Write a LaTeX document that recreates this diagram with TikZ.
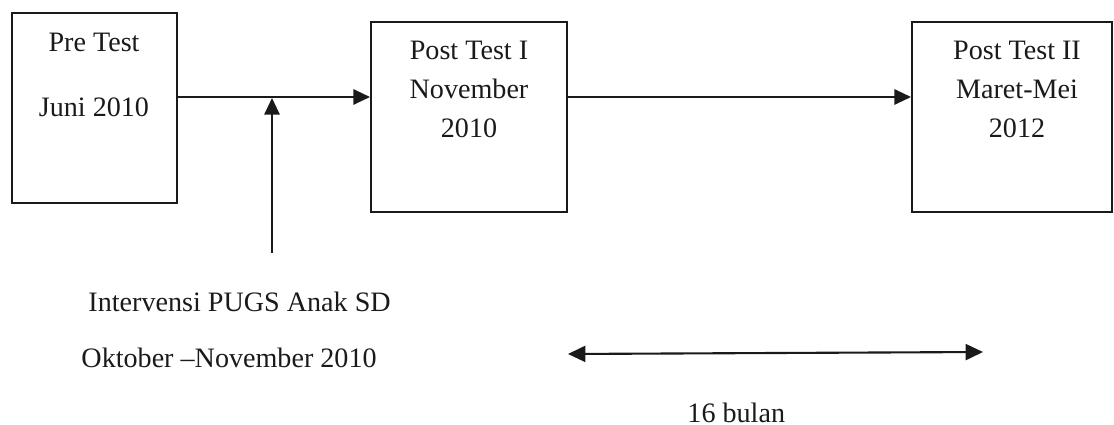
\documentclass[tikz,border=0pt]{standalone}
\usepackage{fontspec}
\setmainfont{Liberation Serif}
\usetikzlibrary{arrows.meta,positioning}
\definecolor{ink}{HTML}{1a1a1a}
\tikzset{
  stage/.style={draw=ink,line width=0.85pt,inner sep=0pt},
  lbl/.style={text=ink,inner sep=0pt,align=center,anchor=base,
              font=\fontsize{12}{16.8}\selectfont},
  note/.style={text=ink,inner sep=0pt,anchor=base west,font=\fontsize{12}{14}\selectfont},
  flow/.style={-{Triangle[length=2.5mm,width=2.3mm]},line width=0.85pt,ink},
  span/.style={{Triangle[length=2.6mm,width=2.4mm]}-{Triangle[length=2.6mm,width=2.4mm]},line width=0.9pt,ink},
}
\begin{document}
\begin{tikzpicture}[x=0.015cm,y=-0.015cm]
  \useasboundingbox (0,0) rectangle (1114,425);
  % the three measurements
  \node[stage,minimum width=2.475cm,minimum height=2.85cm] (pre) at (94.5,108) {};
  \node[stage,minimum width=2.94cm,minimum height=2.85cm] (post1) at (469,117) {};
  \node[stage,minimum width=3.0cm,minimum height=2.85cm] (post2) at (1012,117) {};
  \node[lbl] (preL) at (94,117) {Pre Test\\[11pt]Juni 2010};
  \node[lbl] (post1L) at (469,138) {Post Test I\\November\\2010};
  \node[lbl] (post2L) at (1017,138) {Post Test II\\Maret-Mei\\2012};
  \coordinate (lvl) at (0,97);
  \draw[flow] (pre.east|-lvl) -- (post1.west|-lvl);
  \draw[flow] (post1.east|-lvl) -- (post2.west|-lvl);
  % intervention
  \coordinate (ivbot) at (272,253);
  \coordinate (ivtop) at (272,98);
  \draw[flow] (ivbot) -- (ivtop);
  \node[note] (iv) at (88,312) {Intervensi PUGS Anak SD};
  \node[note] (ivdate) at (81,367) {Oktober --November 2010};
  % duration
  \coordinate (spl) at (568,354);
  \coordinate (spr) at (983,352);
  \draw[span] (spl) -- (spr);
  \node[note] (dur) at (687,422) {16 bulan};
\end{tikzpicture}
\end{document}
